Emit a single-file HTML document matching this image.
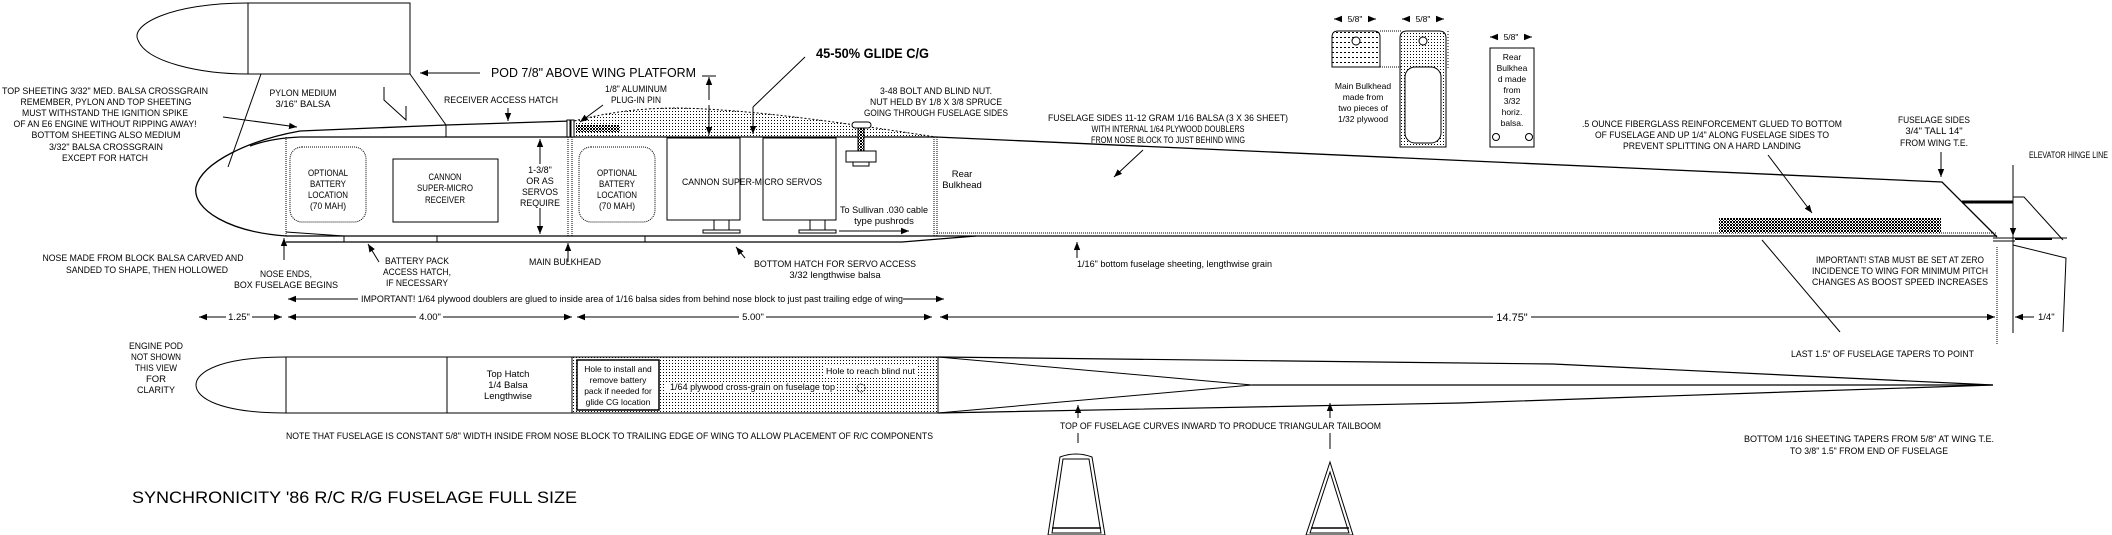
<!DOCTYPE html>
<html><head><meta charset="utf-8"><style>
html,body{margin:0;padding:0;background:#fff;}
svg{display:block}
text{font-family:"Liberation Sans Narrow","Liberation Sans",sans-serif;font-size:9.5px;fill:#000}
.m{text-anchor:middle}
.s{font-size:8.5px}
</style></head><body>
<svg width="2112" height="535" viewBox="0 0 2112 535" xmlns="http://www.w3.org/2000/svg">
<defs>
<pattern id="dots" width="3" height="3" patternUnits="userSpaceOnUse"><rect x="0" y="0" width="1" height="1" fill="#000"/></pattern>
<pattern id="hatch" width="3" height="3" patternUnits="userSpaceOnUse"><rect width="3" height="3" fill="#fff"/><rect x="0" y="0" width="1" height="1" fill="#000"/><rect x="1" y="1" width="1" height="1" fill="#000"/><rect x="2" y="2" width="1" height="1" fill="#000"/><rect x="2" y="0" width="1" height="1" fill="#000"/><rect x="0" y="2" width="1" height="1" fill="#000"/></pattern>
<pattern id="hlines" width="4" height="5" patternUnits="userSpaceOnUse"><rect x="0" y="2" width="2" height="1" fill="#000"/></pattern>
<marker id="ah" viewBox="0 0 10 10" refX="10" refY="5" markerWidth="8" markerHeight="8" orient="auto-start-reverse" markerUnits="userSpaceOnUse"><path d="M0,1 L10,5 L0,9 Z" fill="#000"/></marker>
</defs>
<g fill="none" stroke="#000" stroke-width="1">
<path d="M248,3 C170,3 130,25 138,40 C146,62 200,74 248,74"/>
<rect x="248" y="3" width="162" height="71"/>
<line x1="261" y1="74" x2="228" y2="167"/>
<line x1="410" y1="74" x2="446" y2="125"/>
<path d="M384,87 L384,100 L406,120 L406,106"/>
<line x1="480" y1="73" x2="420" y2="73" marker-end="url(#ah)"/>
<line x1="223" y1="117" x2="297" y2="127" marker-end="url(#ah)"/>
<line x1="508" y1="108" x2="508" y2="121" marker-end="url(#ah)"/>
<line x1="603" y1="105" x2="580" y2="122" marker-end="url(#ah)"/>
<path d="M574,121 C610,112 640,108 680,108 C760,110 850,124 936,137 L574,137 Z" fill="url(#dots)" stroke="#000" stroke-dasharray="2,2"/>
<rect x="576" y="125" width="44" height="7" fill="url(#hatch)" stroke="none"/>
<path d="M286,236 C230,232 192,210 196,187 C202,162 250,140 300,131 L446,125 L571,121" stroke-width="1.3"/>
<path d="M250,146 Q272,138 300,137 L936,137" stroke-width="1.3"/>
<line x1="446" y1="125" x2="446" y2="137"/>
<rect x="567" y="120" width="3" height="17" fill="#fff"/><rect x="571" y="120" width="3" height="17" fill="#fff"/>
<line x1="286" y1="137" x2="286" y2="236" stroke-dasharray="1,1"/>
<line x1="568" y1="137" x2="568" y2="236" stroke-dasharray="1,1"/>
<line x1="572" y1="137" x2="572" y2="236" stroke-dasharray="1,1"/>
<line x1="934" y1="137" x2="934" y2="236" stroke-dasharray="1,1"/>
<line x1="937" y1="137" x2="937" y2="236" stroke-dasharray="1,1"/>
<line x1="286" y1="236" x2="1997" y2="236" stroke-width="1.3"/>
<path d="M286,242 L902,242 L976,236" stroke-width="1.3"/>
<path d="M286,232 L344,236"/>
<line x1="344" y1="236" x2="344" y2="242"/><line x1="437" y1="236" x2="437" y2="242"/><line x1="645" y1="236" x2="645" y2="242"/>
<line x1="937" y1="233" x2="1997" y2="233" stroke-dasharray="1,1"/>
<path d="M936,137 L1942,182 L1997,237" stroke-width="1.3"/>
<rect x="290" y="147" width="76" height="75" rx="12" stroke-dasharray="1,1"/>
<rect x="393" y="159" width="105" height="63"/>
<rect x="579" y="147" width="76" height="75" rx="12" stroke-dasharray="1,1"/>
<line x1="540" y1="164" x2="540" y2="139" marker-end="url(#ah)"/>
<line x1="540" y1="208" x2="540" y2="234" marker-end="url(#ah)"/>
<rect x="667" y="138" width="73" height="82"/>
<rect x="763" y="138" width="73" height="82"/>
<rect x="714" y="220" width="15" height="10"/><rect x="703" y="230" width="37" height="3"/>
<rect x="810" y="220" width="15" height="10"/><rect x="799" y="230" width="37" height="3"/>
<line x1="839" y1="231" x2="909" y2="231" marker-end="url(#ah)"/>
<rect x="852" y="122" width="19" height="6" rx="3" fill="#fff"/>
<rect x="858" y="128" width="6" height="23" fill="url(#hatch)"/>
<rect x="846" y="151" width="30" height="11" fill="#fff"/>
<rect x="853" y="162" width="16" height="4"/>
<line x1="702" y1="76" x2="716" y2="76"/>
<line x1="709" y1="100" x2="709" y2="77" marker-end="url(#ah)"/>
<line x1="709" y1="105" x2="709" y2="135" marker-end="url(#ah)"/>
<line x1="805" y1="57" x2="753" y2="107"/>
<line x1="753" y1="107" x2="753" y2="134" marker-end="url(#ah)"/>
<line x1="284" y1="260" x2="284" y2="238" marker-end="url(#ah)"/>
<line x1="379" y1="262" x2="368" y2="244" marker-end="url(#ah)"/>
<line x1="568" y1="262" x2="568" y2="243" marker-end="url(#ah)"/>
<line x1="745" y1="258" x2="736" y2="247" marker-end="url(#ah)"/>
<line x1="1077" y1="258" x2="1077" y2="242" marker-end="url(#ah)"/>
<line x1="1143" y1="150" x2="1114" y2="177" marker-end="url(#ah)"/>
<rect x="1719" y="218" width="222" height="15" fill="url(#hatch)" stroke="none"/>
<line x1="1768" y1="155" x2="1812" y2="213" marker-end="url(#ah)"/>
<line x1="1762" y1="240" x2="1840" y2="332"/>
<line x1="1941" y1="152" x2="1941" y2="177" marker-end="url(#ah)"/>
<line x1="1962" y1="202" x2="2013" y2="202" stroke-width="3"/>
<path d="M2013,197 L2024,197 L2063,240"/>
<line x1="1993" y1="238" x2="2067" y2="238"/>
<line x1="1993" y1="241" x2="2015" y2="241"/>
<line x1="2015" y1="239" x2="2052" y2="239" stroke-width="2"/>
<line x1="2013" y1="165" x2="2013" y2="333"/>
<line x1="2013" y1="220" x2="2013" y2="236" marker-end="url(#ah)"/>
<path d="M2013,245 L2066,258 L2063,332"/>
<line x1="1997" y1="247" x2="1997" y2="345" stroke-dasharray="1,1"/>
<line x1="358" y1="299" x2="288" y2="299" marker-end="url(#ah)"/>
<line x1="903" y1="299" x2="944" y2="299" marker-end="url(#ah)"/>
<line x1="226" y1="317" x2="199" y2="317" marker-end="url(#ah)"/>
<line x1="252" y1="317" x2="282" y2="317" marker-end="url(#ah)"/>
<line x1="416" y1="317" x2="288" y2="317" marker-end="url(#ah)"/>
<line x1="443" y1="317" x2="572" y2="317" marker-end="url(#ah)"/>
<line x1="739" y1="317" x2="577" y2="317" marker-end="url(#ah)"/>
<line x1="766" y1="317" x2="932" y2="317" marker-end="url(#ah)"/>
<line x1="1493" y1="317" x2="940" y2="317" marker-end="url(#ah)"/>
<line x1="1531" y1="317" x2="1995" y2="317" marker-end="url(#ah)"/>
<line x1="2034" y1="317" x2="2015" y2="317" marker-end="url(#ah)"/>
<path d="M286,357 C220,357 196,372 196,385 C196,398 220,413 286,413"/>
<line x1="286" y1="357" x2="938" y2="357"/>
<line x1="286" y1="413" x2="938" y2="413"/>
<line x1="286" y1="357" x2="286" y2="413"/>
<line x1="447" y1="357" x2="447" y2="413"/>
<rect x="572" y="357" width="366" height="56" fill="url(#dots)"/>
<rect x="577" y="360" width="82" height="50" fill="#fff" stroke-width="1.5"/>
<rect x="666" y="382" width="170" height="10" fill="#fff" stroke="none"/>
<rect x="824" y="365" width="93" height="11" fill="#fff" stroke="none"/>
<circle cx="861" cy="388" r="4" stroke-dasharray="1,1"/>
<path d="M938,357 L1553,364 L1993,385 L1460,403 L938,413" stroke-width="1.2"/>
<path d="M938,357 L1252,385 L938,413"/>
<line x1="1252" y1="385" x2="1993" y2="385" stroke-width="1.2"/>
<line x1="1078" y1="418" x2="1078" y2="405" marker-end="url(#ah)"/>
<line x1="1330" y1="418" x2="1330" y2="403" marker-end="url(#ah)"/>
<line x1="1078" y1="433" x2="1078" y2="443"/>
<line x1="1330" y1="433" x2="1330" y2="449"/>
<path d="M1060,457 Q1076,451 1092,457 L1105,535 L1048,535 Z"/>
<path d="M1063,459 L1089,459 L1101,533 L1052,533 Z"/>
<line x1="1052" y1="528" x2="1101" y2="528" stroke-width="1.5"/>
<path d="M1330,462 L1353,535 L1306,535 Z"/>
<path d="M1330,472 L1349,533 L1310,533 Z"/>
<line x1="1311" y1="528" x2="1349" y2="528" stroke-width="1.5"/>
<path d="M1332,67 L1332,37 Q1332,31 1338,31 L1374,31 Q1380,31 1380,37 L1380,67 Z" fill="url(#hlines)"/>
<circle cx="1356" cy="41" r="4" fill="#fff"/>
<line x1="1380" y1="31" x2="1402" y2="31" stroke-dasharray="1,1"/>
<line x1="1380" y1="67" x2="1402" y2="67" stroke-dasharray="1,1"/>
<path d="M1400,147 L1400,38 Q1400,31 1407,31 L1439,31 Q1446,31 1446,38 L1446,147 Z" fill="url(#dots)"/>
<rect x="1405" y="67" width="36" height="76" rx="10" fill="#fff"/>
<circle cx="1423" cy="41" r="4" fill="#fff"/>
<line x1="1448" y1="31" x2="1448" y2="70" stroke-dasharray="1,2"/>
<rect x="1490" y="48" width="44" height="99"/>
<circle cx="1496" cy="137" r="3.5"/><circle cx="1529" cy="137" r="3.5"/>
<line x1="1342" y1="19" x2="1334" y2="19" marker-end="url(#ah)"/><line x1="1368" y1="19" x2="1376" y2="19" marker-end="url(#ah)"/>
<line x1="1410" y1="19" x2="1402" y2="19" marker-end="url(#ah)"/><line x1="1436" y1="19" x2="1444" y2="19" marker-end="url(#ah)"/>
<line x1="1498" y1="37" x2="1490" y2="37" marker-end="url(#ah)"/><line x1="1524" y1="37" x2="1532" y2="37" marker-end="url(#ah)"/>
</g>
<text x="491" y="77" style="font-size:13px" textLength="205" lengthAdjust="spacingAndGlyphs">POD 7/8" ABOVE WING PLATFORM</text>
<text x="816" y="58" style="font-size:14px;font-weight:bold;font-family:'Liberation Sans',sans-serif" textLength="113" lengthAdjust="spacingAndGlyphs">45-50% GLIDE C/G</text>
<g class="m">
<text x="105" y="94" textLength="206" lengthAdjust="spacingAndGlyphs">TOP SHEETING 3/32" MED. BALSA CROSSGRAIN</text>
<text x="106" y="105" textLength="171" lengthAdjust="spacingAndGlyphs">REMEMBER, PYLON AND TOP SHEETING</text>
<text x="105" y="116" textLength="166" lengthAdjust="spacingAndGlyphs">MUST WITHSTAND THE IGNITION SPIKE</text>
<text x="105" y="127" textLength="183" lengthAdjust="spacingAndGlyphs">OF AN E6 ENGINE WITHOUT RIPPING AWAY!</text>
<text x="106" y="138" textLength="149" lengthAdjust="spacingAndGlyphs">BOTTOM SHEETING ALSO MEDIUM</text>
<text x="106" y="150" textLength="114" lengthAdjust="spacingAndGlyphs">3/32" BALSA CROSSGRAIN</text>
<text x="105" y="161" textLength="86" lengthAdjust="spacingAndGlyphs">EXCEPT FOR HATCH</text>
<text x="303" y="96" textLength="67" lengthAdjust="spacingAndGlyphs">PYLON MEDIUM</text>
<text x="303" y="107" textLength="55" lengthAdjust="spacingAndGlyphs">3/16" BALSA</text>
<text x="501" y="103" textLength="114" lengthAdjust="spacingAndGlyphs">RECEIVER ACCESS HATCH</text>
<text x="636" y="92" textLength="62" lengthAdjust="spacingAndGlyphs">1/8" ALUMINUM</text>
<text x="636" y="103" textLength="50" lengthAdjust="spacingAndGlyphs">PLUG-IN PIN</text>
<text x="936" y="94" textLength="112" lengthAdjust="spacingAndGlyphs">3-48 BOLT AND BLIND NUT.</text>
<text x="936" y="105" textLength="132" lengthAdjust="spacingAndGlyphs">NUT HELD BY 1/8 X 3/8 SPRUCE</text>
<text x="936" y="116" textLength="144" lengthAdjust="spacingAndGlyphs">GOING THROUGH FUSELAGE SIDES</text>
<text x="328" y="176" textLength="40" lengthAdjust="spacingAndGlyphs">OPTIONAL</text><text x="328" y="187" textLength="36" lengthAdjust="spacingAndGlyphs">BATTERY</text><text x="328" y="198" textLength="40" lengthAdjust="spacingAndGlyphs">LOCATION</text><text x="328" y="209" textLength="36" lengthAdjust="spacingAndGlyphs">(70 MAH)</text>
<text x="445" y="180" textLength="33" lengthAdjust="spacingAndGlyphs">CANNON</text><text x="445" y="191" textLength="56" lengthAdjust="spacingAndGlyphs">SUPER-MICRO</text><text x="445" y="203" textLength="40" lengthAdjust="spacingAndGlyphs">RECEIVER</text>
<text x="540" y="173" style="font-size:9px">1-3/8"</text><text x="540" y="184" style="font-size:9px">OR AS</text><text x="540" y="195" style="font-size:9px" textLength="36" lengthAdjust="spacingAndGlyphs">SERVOS</text><text x="540" y="206" style="font-size:9px" textLength="40" lengthAdjust="spacingAndGlyphs">REQUIRE</text>
<text x="617" y="176" textLength="40" lengthAdjust="spacingAndGlyphs">OPTIONAL</text><text x="617" y="187" textLength="36" lengthAdjust="spacingAndGlyphs">BATTERY</text><text x="617" y="198" textLength="40" lengthAdjust="spacingAndGlyphs">LOCATION</text><text x="617" y="209" textLength="36" lengthAdjust="spacingAndGlyphs">(70 MAH)</text>
<text x="752" y="185" textLength="140" lengthAdjust="spacingAndGlyphs">CANNON SUPER-MICRO SERVOS</text>
<text x="884" y="213" textLength="88" lengthAdjust="spacingAndGlyphs">To Sullivan .030 cable</text>
<text x="884" y="224">type pushrods</text>
<text x="962" y="177">Rear</text><text x="962" y="188">Bulkhead</text>
<text x="1168" y="121" textLength="240" lengthAdjust="spacingAndGlyphs">FUSELAGE SIDES 11-12 GRAM 1/16 BALSA (3 X 36 SHEET)</text>
<text x="1168" y="132" textLength="153" lengthAdjust="spacingAndGlyphs">WITH INTERNAL 1/64 PLYWOOD DOUBLERS</text>
<text x="1168" y="143" textLength="154" lengthAdjust="spacingAndGlyphs">FROM NOSE BLOCK TO JUST BEHIND WING</text>
<text x="1355" y="22" class="s">5/8"</text><text x="1423" y="22" class="s">5/8"</text><text x="1511" y="40" class="s">5/8"</text>
<text x="1363" y="89" class="s">Main Bulkhead</text><text x="1363" y="100" class="s">made from</text><text x="1363" y="111" class="s">two pieces of</text><text x="1363" y="122" class="s">1/32 plywood</text>
<text x="1512" y="60" class="s">Rear</text><text x="1512" y="71" class="s">Bulkhea</text><text x="1512" y="82" class="s">d made</text><text x="1512" y="93" class="s">from</text><text x="1512" y="104" class="s">3/32</text><text x="1512" y="115" class="s">horiz.</text><text x="1512" y="126" class="s">balsa.</text>
<text x="1712" y="127" textLength="260" lengthAdjust="spacingAndGlyphs">.5 OUNCE FIBERGLASS REINFORCEMENT GLUED TO BOTTOM</text>
<text x="1712" y="138" textLength="234" lengthAdjust="spacingAndGlyphs">OF FUSELAGE AND UP 1/4" ALONG FUSELAGE SIDES TO</text>
<text x="1712" y="149" textLength="178" lengthAdjust="spacingAndGlyphs">PREVENT SPLITTING ON A HARD LANDING</text>
<text x="1934" y="123" textLength="72" lengthAdjust="spacingAndGlyphs">FUSELAGE SIDES</text><text x="1934" y="134">3/4" TALL 14"</text><text x="1934" y="146" textLength="68" lengthAdjust="spacingAndGlyphs">FROM WING T.E.</text>
<text x="1900" y="263" textLength="168" lengthAdjust="spacingAndGlyphs">IMPORTANT! STAB MUST BE SET AT ZERO</text>
<text x="1900" y="274" textLength="176" lengthAdjust="spacingAndGlyphs">INCIDENCE TO WING FOR MINIMUM PITCH</text>
<text x="1900" y="285" textLength="176" lengthAdjust="spacingAndGlyphs">CHANGES AS BOOST SPEED INCREASES</text>
<text x="143" y="261" textLength="201" lengthAdjust="spacingAndGlyphs">NOSE MADE FROM BLOCK BALSA CARVED AND</text>
<text x="147" y="273" textLength="162" lengthAdjust="spacingAndGlyphs">SANDED TO SHAPE, THEN HOLLOWED</text>
<text x="286" y="277" textLength="52" lengthAdjust="spacingAndGlyphs">NOSE ENDS,</text>
<text x="286" y="288" textLength="104" lengthAdjust="spacingAndGlyphs">BOX FUSELAGE BEGINS</text>
<text x="417" y="264" textLength="64" lengthAdjust="spacingAndGlyphs">BATTERY PACK</text><text x="417" y="275" textLength="68" lengthAdjust="spacingAndGlyphs">ACCESS HATCH,</text><text x="417" y="286" textLength="62" lengthAdjust="spacingAndGlyphs">IF NECESSARY</text>
<text x="565" y="265" textLength="72" lengthAdjust="spacingAndGlyphs">MAIN BULKHEAD</text>
<text x="835" y="267" textLength="162" lengthAdjust="spacingAndGlyphs">BOTTOM HATCH FOR SERVO ACCESS</text>
<text x="835" y="278">3/32 lengthwise balsa</text>
<text x="156" y="349" textLength="54" lengthAdjust="spacingAndGlyphs">ENGINE POD</text><text x="156" y="360" textLength="50" lengthAdjust="spacingAndGlyphs">NOT SHOWN</text><text x="156" y="371" textLength="42" lengthAdjust="spacingAndGlyphs">THIS VIEW</text><text x="156" y="382">FOR</text><text x="156" y="393" textLength="38" lengthAdjust="spacingAndGlyphs">CLARITY</text>
<text x="508" y="377">Top Hatch</text><text x="508" y="388">1/4 Balsa</text><text x="508" y="399">Lengthwise</text>
<text x="618" y="372" class="s">Hole to install and</text><text x="618" y="383" class="s">remove battery</text><text x="618" y="394" class="s">pack if needed for</text><text x="618" y="405" class="s">glide CG location</text>
<text x="1869" y="442" textLength="250" lengthAdjust="spacingAndGlyphs">BOTTOM 1/16 SHEETING TAPERS FROM 5/8" AT WING T.E.</text>
<text x="1869" y="454" textLength="158" lengthAdjust="spacingAndGlyphs">TO 3/8" 1.5" FROM END OF FUSELAGE</text>
<text x="239" y="320">1.25"</text><text x="430" y="320">4.00"</text><text x="753" y="320">5.00"</text>
<text x="1512" y="321" style="font-size:11px">14.75"</text>
</g>
<text x="1077" y="267" textLength="195" lengthAdjust="spacingAndGlyphs">1/16" bottom fuselage sheeting, lengthwise grain</text>
<text x="2029" y="158" textLength="79" lengthAdjust="spacingAndGlyphs">ELEVATOR HINGE LINE</text>
<text x="361" y="302" textLength="542" lengthAdjust="spacingAndGlyphs">IMPORTANT! 1/64 plywood doublers are glued to inside area of 1/16 balsa sides from behind nose block to just past trailing edge of wing</text>
<text x="2038" y="320">1/4"</text>
<text x="670" y="390" textLength="165" lengthAdjust="spacingAndGlyphs">1/64 plywood cross-grain on fuselage top</text>
<text x="826" y="374" class="s" textLength="89" lengthAdjust="spacingAndGlyphs">Hole to reach blind nut</text>
<text x="1791" y="357" textLength="183" lengthAdjust="spacingAndGlyphs">LAST 1.5" OF FUSELAGE TAPERS TO POINT</text>
<text x="1060" y="429" textLength="321" lengthAdjust="spacingAndGlyphs">TOP OF FUSELAGE CURVES INWARD TO PRODUCE TRIANGULAR TAILBOOM</text>
<text x="286" y="439" textLength="647" lengthAdjust="spacingAndGlyphs">NOTE THAT FUSELAGE IS CONSTANT 5/8" WIDTH INSIDE FROM NOSE BLOCK TO TRAILING EDGE OF WING TO ALLOW PLACEMENT OF R/C COMPONENTS</text>
<text x="132" y="503" style="font-size:17px" textLength="445" lengthAdjust="spacingAndGlyphs">SYNCHRONICITY '86 R/C R/G FUSELAGE FULL SIZE</text>
</svg>
</body></html>
